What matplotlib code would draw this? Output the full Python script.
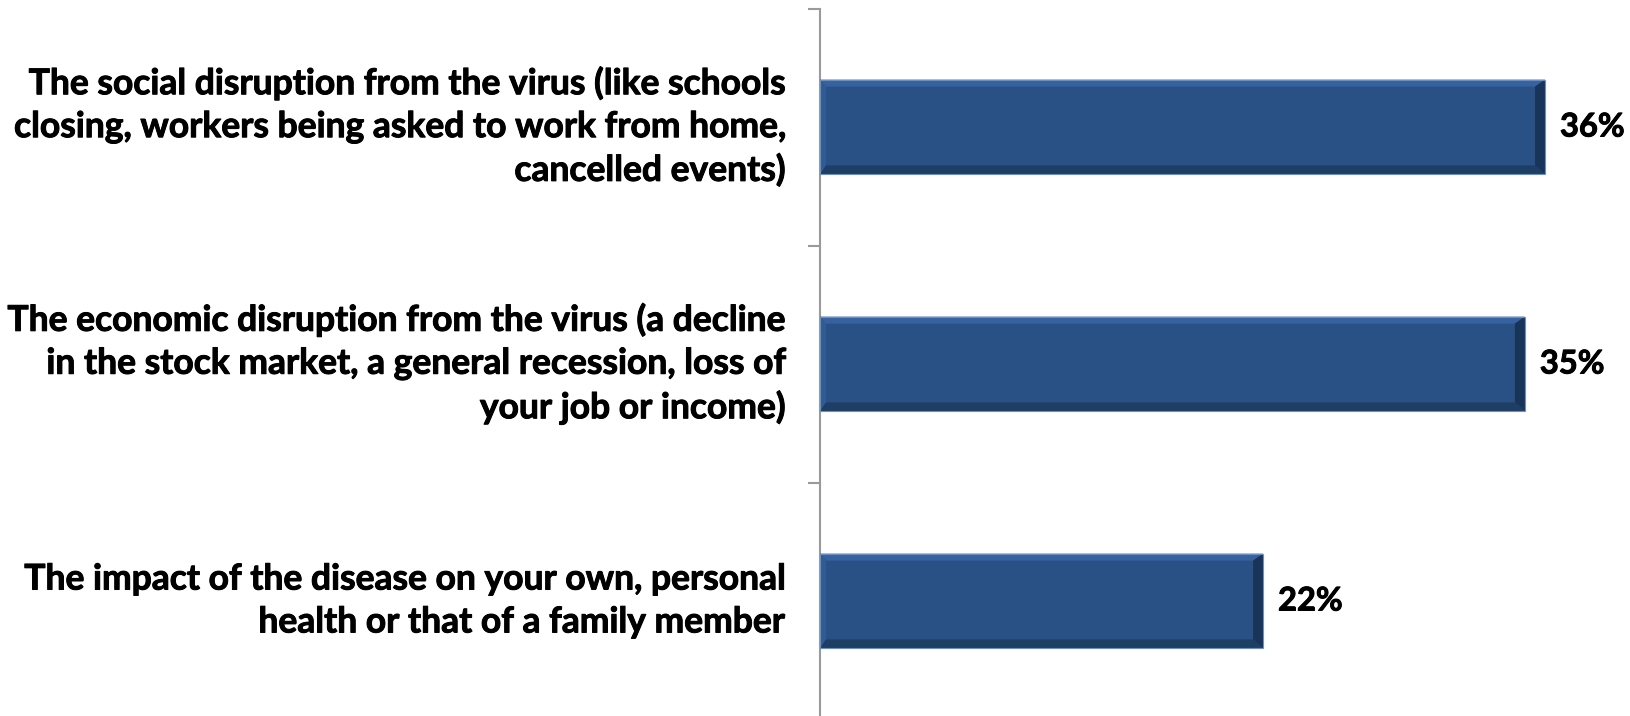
import matplotlib
matplotlib.use("Agg")
import matplotlib.pyplot as plt
from matplotlib.patches import Polygon
import matplotlib.patheffects as pe

# Survey responses: share of respondents naming each concern
categories = [
    "The social disruption from the virus (like schools\nclosing, workers being asked to work from home,\ncancelled events)",
    "The economic disruption from the virus (a decline\nin the stock market, a general recession, loss of\nyour job or income)",
    "The impact of the disease on your own, personal\nhealth or that of a family member",
]
values = [36, 35, 22]
value_labels = ["36%", "35%", "22%"]

FONT = ["Lato", "DejaVu Sans"]
FACE = "#2a5185"
FS = 25.5
FS_VAL = 23.5
HEAVY = [pe.withStroke(linewidth=0.7, foreground="black")]

W, H, DPI = 1630, 716, 100
fig = plt.figure(figsize=(W / DPI, H / DPI), dpi=DPI)
fig.patch.set_facecolor("white")

# plot area in pixels: left edge at the axis line, rows 237 px tall
left_px, top_px, row_px = 820, 8.5, 237
xmax = 40
px_per_unit = 725 / 36
width_px = xmax * px_per_unit
height_px = 3 * row_px
ax = fig.add_axes([left_px / W, (H - top_px - height_px) / H,
                   width_px / W, height_px / H])

ypos = list(range(len(categories)))
bars = ax.barh(ypos, values, height=0.4, color=FACE,
               edgecolor="none", zorder=2)

ax.set_xlim(0, xmax)
ax.set_ylim(len(categories) - 0.5, -0.5)

# bevelled look on each bar: light top/left faces, dark bottom/right faces
dx = xmax / width_px          # data units per pixel horizontally
dy = 3 / height_px            # data units per pixel vertically
bev_x, bev_top, bev_bot = 10, 7, 9
for b in bars:
    x0, y0 = b.get_x(), b.get_y()
    x1, y1 = x0 + b.get_width(), y0 + b.get_height()
    # y grows downward on screen (inverted axis): y0 is top edge
    ix0, ix1 = x0 + bev_x * 0.6 * dx, x1 - bev_x * dx
    iy0, iy1 = y0 + bev_top * dy, y1 - bev_bot * dy
    faces = [
        ([(x0, y0), (x1, y0), (ix1, iy0), (ix0, iy0)], "#3762a0"),   # top
        ([(x0, y0), (ix0, iy0), (ix0, iy1), (x0, y1)], "#305c96"),   # left
        ([(x1, y0), (x1, y1), (ix1, iy1), (ix1, iy0)], "#183559"),   # right
        ([(x0, y1), (ix0, iy1), (ix1, iy1), (x1, y1)], "#1f3e66"),   # bottom
    ]
    for pts, col in faces:
        ax.add_patch(Polygon(pts, closed=True, facecolor=col,
                             edgecolor="none", zorder=3))
    ax.add_patch(Polygon([(x0, y0), (x1, y0), (x1, y1), (x0, y1)], closed=True,
                         facecolor="none", edgecolor="#6d8fbf", linewidth=0.8,
                         zorder=4))

# value labels to the right of each bar
for b, lab in zip(bars, value_labels):
    ax.text(b.get_width() + 15 * dx, b.get_y() + b.get_height() / 2, lab,
            ha="left", va="center", fontsize=FS_VAL, fontweight="bold",
            family=FONT, color="black", path_effects=HEAVY)

# category labels at bar centres, ticks at row boundaries
ax.set_yticks(ypos)
ax.set_yticklabels(categories, fontsize=FS, fontweight="bold",
                   family=FONT, linespacing=1.42)
for t in ax.get_yticklabels():
    t.set_va("center")
    t.set_path_effects(HEAVY)
ax.tick_params(axis="y", which="major", length=0, pad=25)
ax.set_yticks([-0.5, 0.5, 1.5, 2.5], minor=True)
ax.tick_params(axis="y", which="minor", length=8.6, width=1.5,
               color="#9a9a9a", direction="out")
ax.set_xticks([])

for s in ["top", "right", "bottom"]:
    ax.spines[s].set_visible(False)
ax.spines["left"].set_color("#9a9a9a")
ax.spines["left"].set_linewidth(1.5)
ax.set_facecolor("none")

fig.savefig("out.png", dpi=DPI, facecolor="white")
